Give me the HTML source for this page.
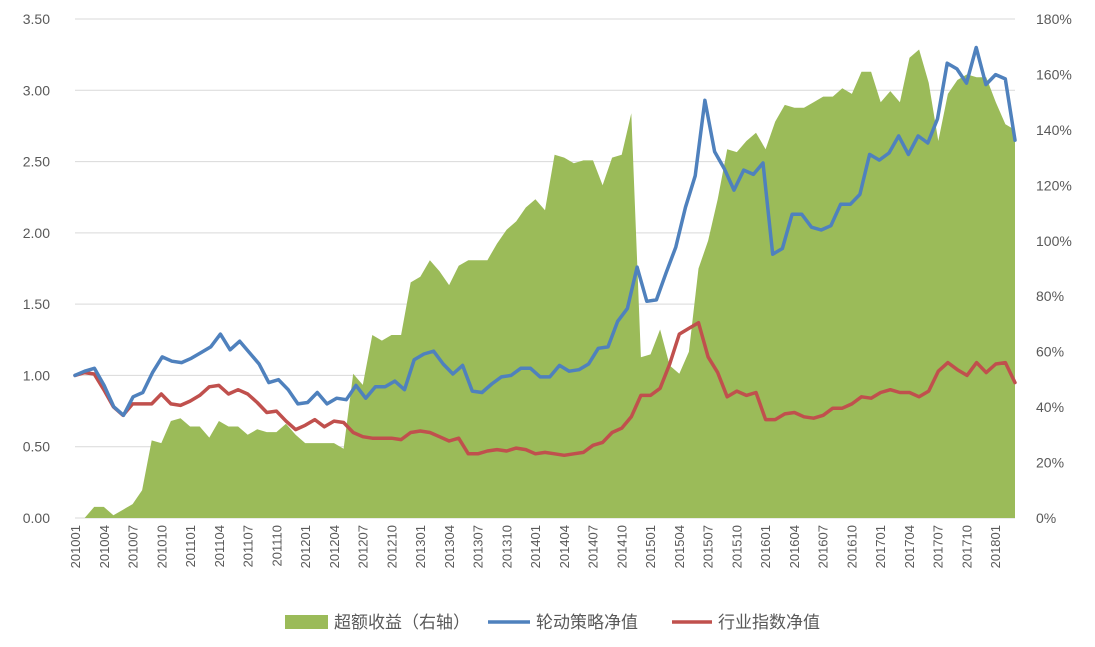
<!DOCTYPE html>
<html><head><meta charset="utf-8"><style>
body{margin:0;background:#fff;}
svg text{font-family:"Liberation Sans","Noto Sans CJK SC",sans-serif;fill:#595959;}
</style></head><body>
<svg id="c" width="1095" height="642" xmlns="http://www.w3.org/2000/svg"></svg>
<script>
const svg=document.getElementById('c');
const NS='http://www.w3.org/2000/svg';
function el(t,a,txt){const e=document.createElementNS(NS,t);for(const k in a)e.setAttribute(k,a[k]);if(txt!==undefined)e.textContent=txt;svg.appendChild(e);return e;}
const X0=75,X1=1015,Y0=518,Y1=19;
for(let i=0;i<=7;i++){const y=Y0-(Y0-Y1)*i/7;
 if(i>0)el('line',{x1:X0,x2:X1,y1:y,y2:y,stroke:'#d9d9d9','stroke-width':1});
 el('text',{x:50,y:y+5,'text-anchor':'end','font-size':14},(i*0.5).toFixed(2));}
for(let i=0;i<=9;i++){const y=Y0-(Y0-Y1)*i/9;
 el('text',{x:1036,y:y+5,'font-size':14},(i*20)+'%');}
el('line',{x1:X0,x2:X1,y1:Y0,y2:Y0,stroke:'#d9d9d9','stroke-width':1});
const g=[0,0,4,4,1,3,5,10,28,27,35,36,33,33,29,35,33,33,30,32,31,31,34,30,27,27,27,27,25,52,48,66,64,66,66,85,87,93,89,84,91,93,93,93,99,104,107,112,115,111,131,130,128,129,129,120,130,131,146,58,59,68,55,52,60,90,100,115,133,132,136,139,133,143,149,148,148,150,152,152,155,153,161,161,150,154,150,166,169,157,136,153,158,160,159,159,150,142,140];
const b=[1.00,1.03,1.05,0.93,0.78,0.72,0.85,0.88,1.02,1.13,1.10,1.09,1.12,1.16,1.20,1.29,1.18,1.24,1.16,1.08,0.95,0.97,0.90,0.80,0.81,0.88,0.80,0.84,0.83,0.93,0.84,0.92,0.92,0.96,0.90,1.11,1.15,1.17,1.08,1.01,1.07,0.89,0.88,0.94,0.99,1.00,1.05,1.05,0.99,0.99,1.07,1.03,1.04,1.08,1.19,1.20,1.38,1.47,1.76,1.52,1.53,1.72,1.90,2.18,2.40,2.93,2.57,2.45,2.30,2.44,2.41,2.49,1.85,1.89,2.13,2.13,2.04,2.02,2.05,2.20,2.20,2.27,2.55,2.51,2.56,2.68,2.55,2.68,2.63,2.80,3.19,3.15,3.05,3.30,3.04,3.11,3.08,2.65];
const r=[1.00,1.02,1.01,0.90,0.78,0.72,0.80,0.80,0.80,0.87,0.80,0.79,0.82,0.86,0.92,0.93,0.87,0.90,0.87,0.81,0.74,0.75,0.68,0.62,0.65,0.69,0.64,0.68,0.67,0.60,0.57,0.56,0.56,0.56,0.55,0.60,0.61,0.60,0.57,0.54,0.56,0.45,0.45,0.47,0.48,0.47,0.49,0.48,0.45,0.46,0.45,0.44,0.45,0.46,0.51,0.53,0.60,0.63,0.71,0.86,0.86,0.91,1.08,1.29,1.33,1.37,1.13,1.02,0.85,0.89,0.86,0.88,0.69,0.69,0.73,0.74,0.71,0.70,0.72,0.77,0.77,0.80,0.85,0.84,0.88,0.90,0.88,0.88,0.85,0.89,1.03,1.09,1.04,1.00,1.09,1.02,1.08,1.09,0.95];
function xs(n,i){return X0+(X1-X0)*i/(n-1);}
let d='M'+X0+','+Y0;
g.forEach((v,i)=>{d+=' L'+xs(g.length,i).toFixed(1)+','+(Y0-v*(Y0-Y1)/180).toFixed(1);});
d+=' L'+X1+','+Y0+' Z';
el('path',{d:d,fill:'#9bbb59'});
function line(a,c){let p='';a.forEach((v,i)=>{p+=(i?' L':'M')+xs(a.length,i).toFixed(1)+','+(Y0-v*(Y0-Y1)/3.5).toFixed(1);});
 el('path',{d:p,fill:'none',stroke:c,'stroke-width':3.5,'stroke-linejoin':'round','stroke-linecap':'round'});}
line(r,'#c0504d');line(b,'#4f81bd');
for(let k=0;k<=32;k++){const m=k*3;const yr=2010+Math.floor(m/12),mo=m%12+1;
 const lab=''+yr+(mo<10?'0':'')+mo;const x=75+k*28.75;
 el('text',{x:0,y:0,'font-size':13,'text-anchor':'end',transform:'translate('+(x+5)+',525) rotate(-90)'},lab);}
el('rect',{x:285,y:615,width:43,height:14,fill:'#9bbb59'});
el('text',{x:334,y:628,'font-size':17},'超额收益（右轴）');
el('line',{x1:488,x2:530,y1:622,y2:622,stroke:'#4f81bd','stroke-width':3.5});
el('text',{x:536,y:628,'font-size':17},'轮动策略净值');
el('line',{x1:672,x2:712,y1:622,y2:622,stroke:'#c0504d','stroke-width':3.5});
el('text',{x:718,y:628,'font-size':17},'行业指数净值');
</script>
</body></html>
